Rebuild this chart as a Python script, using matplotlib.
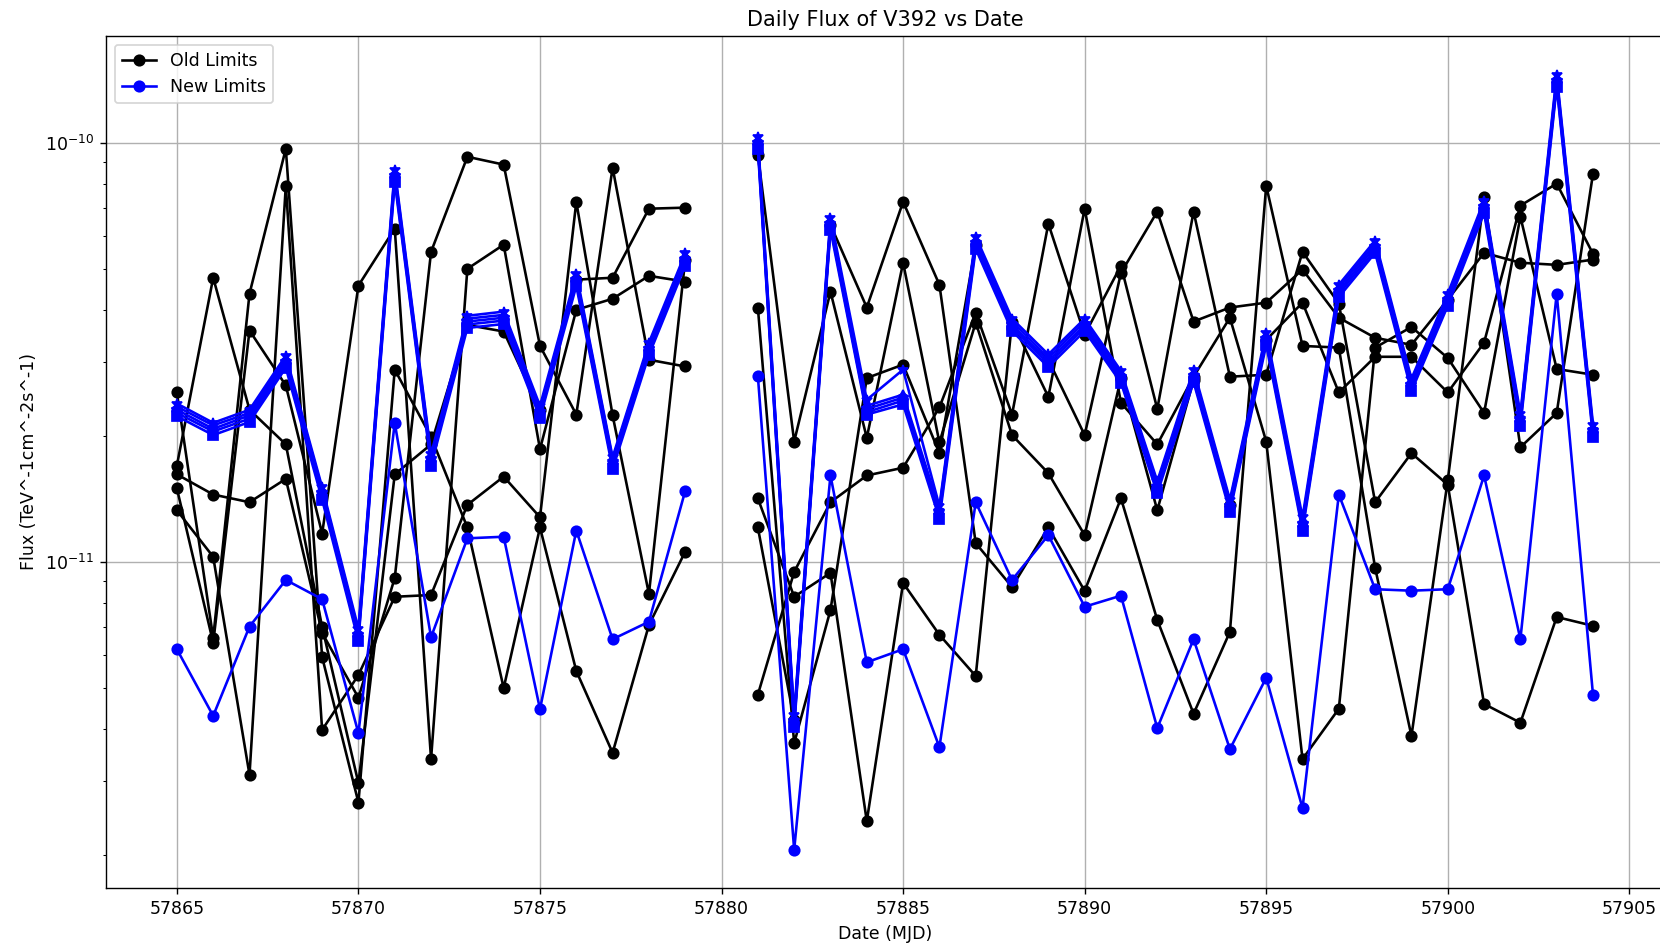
import numpy as np
import matplotlib
matplotlib.use("Agg")
import matplotlib.pyplot as plt

nan = np.nan

# days (MJD); 57880 has no data
mjd = list(range(57865, 57905))

# fluxes in units of 1e-11 TeV^-1 cm^-2 s^-1
old_a = [2.54, 0.660, 4.37, 9.69, 0.594, 0.267, 2.88, 1.99, 1.21, 0.501, 1.21, 0.550, 0.351, 0.708, 1.06, nan,
         9.38, 1.94, 4.42, 1.98, 5.18, 1.93, 3.73, 2.01, 1.63, 1.16, 2.75, 1.33, 2.72, 1.37, 3.39, 4.16,
         2.54, 3.09, 3.09, 2.54, 3.34, 7.09, 8.00, 5.44]
old_b = [1.70, 4.77, 2.31, 1.91, 0.701, 0.297, 1.62, 1.91, 3.68, 3.55, 2.31, 4.72, 4.77, 6.97, 7.01, nan,
         4.05, 0.370, 0.769, 2.75, 2.96, 1.82, 5.72, 3.62, 3.04, 2.01, 4.90, 6.86, 3.75, 4.05, 4.16, 4.99,
         3.83, 3.43, 3.30, 4.23, 5.47, 5.18, 5.12, 5.27]
old_c = [1.62, 1.45, 1.39, 1.58, 0.678, 0.475, 0.917, 5.50, 9.27, 8.88, 3.28, 2.25, 8.73, 3.04, 2.93, nan,
         1.42, 0.827, 0.943, 0.241, 0.892, 0.671, 0.535, 3.75, 2.48, 6.97, 2.40, 1.91, 2.77, 3.83, 1.94, 0.339,
         0.447, 3.25, 3.64, 3.07, 2.27, 6.67, 2.89, 2.80]
old_d = [1.50, 0.642, 3.57, 2.64, 1.17, 4.57, 6.25, 0.339, 5.01, 5.72, 1.86, 4.00, 4.25, 4.82, 4.67, nan,
         1.21, 0.420, 6.38, 4.05, 7.24, 4.59, 1.11, 0.873, 1.21, 0.854, 1.42, 0.728, 0.435, 0.682, 7.91, 3.28,
         3.25, 0.969, 0.385, 1.57, 7.44, 1.88, 2.27, 8.45]
old_e = [1.33, 1.03, 0.311, 7.91, 0.398, 0.538, 0.827, 0.835, 1.37, 1.60, 1.28, 7.24, 2.24, 0.840, 5.27, nan,
         0.483, 0.948, 1.39, 1.61, 1.68, 2.34, 3.94, 2.25, 6.42, 3.49, 5.10, 2.32, 6.86, 2.77, 2.80, 5.50,
         4.14, 1.39, 1.82, 1.53, 0.459, 0.414, 0.740, 0.705]

new_low = [0.620, 0.430, 0.702, 0.907, 0.816, 0.391, 2.15, 0.662, 1.14, 1.15, 0.446, 1.19, 0.655, 0.721, 1.48, nan,
           2.78, 0.206, 1.61, 0.577, 0.620, 0.362, 1.39, 0.907, 1.16, 0.783, 0.832, 0.402, 0.655, 0.358, 0.530, 0.259,
           1.45, 0.862, 0.855, 0.862, 1.61, 0.655, 4.37, 0.482]

new_1 = [2.39, 2.15, 2.31, 3.11, 1.51, 0.694, 8.64, 1.81, 3.87, 3.96, 2.36, 4.88, 1.78, 3.34, 5.45, nan,
         10.36, 0.432, 6.64, 2.44, 2.88, 1.36, 5.98, 3.81, 3.13, 3.81, 2.86, 1.56, 2.88, 1.41, 3.53, 1.28,
         4.59, 5.85, 2.74, 4.37, 7.29, 2.26, 14.56, 2.13]
new_2 = [2.35, 2.12, 2.27, 3.06, 1.49, 0.682, 8.50, 1.78, 3.81, 3.89, 2.32, 4.80, 1.76, 3.28, 5.36, nan,
         10.19, 0.425, 6.53, 2.36, 2.51, 1.34, 5.88, 3.75, 3.07, 3.75, 2.82, 1.54, 2.83, 1.39, 3.47, 1.25,
         4.52, 5.75, 2.70, 4.30, 7.17, 2.22, 14.32, 2.09]
new_3 = [2.31, 2.08, 2.24, 3.01, 1.46, 0.671, 8.36, 1.76, 3.75, 3.83, 2.28, 4.72, 1.73, 3.23, 5.27, nan,
         10.02, 0.418, 6.42, 2.32, 2.47, 1.32, 5.78, 3.68, 3.02, 3.68, 2.77, 1.51, 2.78, 1.36, 3.41, 1.23,
         4.44, 5.66, 2.65, 4.23, 7.05, 2.19, 14.08, 2.06]
new_4 = [2.27, 2.05, 2.20, 2.96, 1.44, 0.660, 8.22, 1.73, 3.69, 3.77, 2.25, 4.64, 1.70, 3.18, 5.19, nan,
         9.86, 0.411, 6.32, 2.28, 2.43, 1.30, 5.69, 3.63, 2.97, 3.63, 2.72, 1.49, 2.74, 1.34, 3.36, 1.21,
         4.37, 5.56, 2.61, 4.16, 6.93, 2.15, 13.85, 2.03]
new_5 = [2.23, 2.01, 2.16, 2.91, 1.41, 0.649, 8.08, 1.70, 3.62, 3.70, 2.21, 4.56, 1.67, 3.12, 5.10, nan,
         9.69, 0.404, 6.21, 2.25, 2.38, 1.27, 5.59, 3.56, 2.92, 3.56, 2.68, 1.46, 2.69, 1.32, 3.30, 1.19,
         4.29, 5.47, 2.56, 4.09, 6.81, 2.11, 13.62, 1.99]

unit = 1e-11

fig = plt.figure(figsize=(13.28, 7.552), dpi=125)
ax = fig.add_axes([0.0639, 0.0593, 0.9384, 0.9026])

old = [old_a, old_b, old_c, old_d, old_e]
for i, s in enumerate(old):
    ax.plot(mjd, np.array(s) * unit, "k-o", label="Old Limits" if i == 0 else None)

ax.plot(mjd, np.array(new_low) * unit, "b-o", label="New Limits")
for s, m in zip([new_1, new_2, new_3, new_4, new_5], ["*", "^", "p", "v", "s"]):
    ax.plot(mjd, np.array(s) * unit, color="b", marker=m, markersize=6)

ax.set_yscale("log")
ax.set_xlim(57863.05, 57905.95)
ax.set_ylim(1.67e-12, 1.80e-10)
ax.grid(True)
ax.set_title("Daily Flux of V392 vs Date")
ax.set_xlabel("Date (MJD)")
ax.set_ylabel("Flux (TeV^-1cm^-2s^-1)")
ax.legend(loc="upper left")

fig.savefig("out.png", dpi=125)
